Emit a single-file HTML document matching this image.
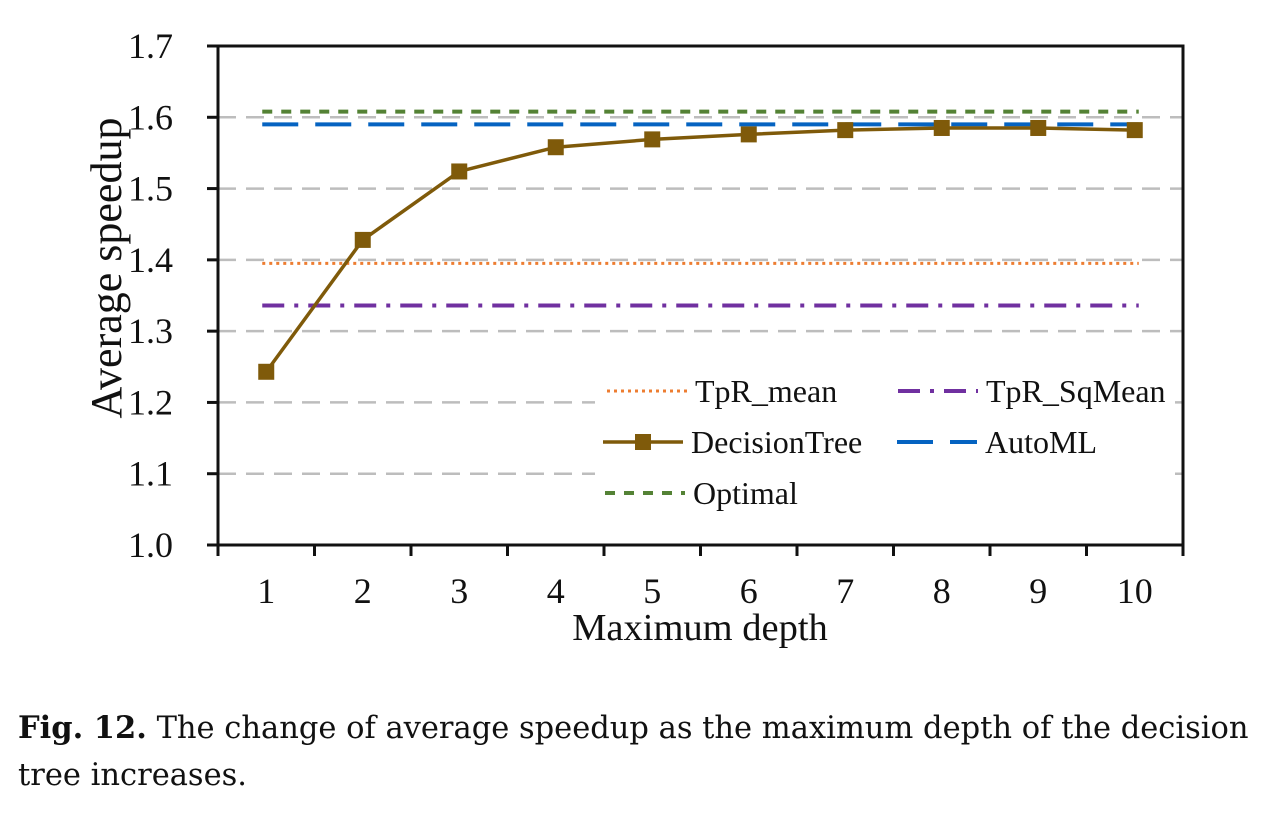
<!DOCTYPE html>
<html><head><meta charset="utf-8"><style>
body{margin:0;background:#fff;width:1262px;height:816px;overflow:hidden}
svg text{font-family:"Liberation Serif",serif}
.cap{position:absolute;left:18px;top:705px;font-family:"DejaVu Serif","Liberation Serif",serif;font-size:30.5px;line-height:47px;color:#111;width:1250px;white-space:nowrap}
</style></head><body>
<svg id="chart" width="1262" height="700" style="position:absolute;left:0;top:0"></svg>
<div class="cap"><b>Fig. 12.</b> The change of average speedup as the maximum depth of the decision<br>tree increases.</div>
<script>
const categories=[1,2,3,4,5,6,7,8,9,10];
const decisionTree=[1.243,1.428,1.524,1.558,1.569,1.576,1.582,1.585,1.585,1.582];
const optimal=1.608, autoML=1.590, tprMean=1.395, tprSqMean=1.336;
const yTicks=[1.0,1.1,1.2,1.3,1.4,1.5,1.6,1.7];
const NS='http://www.w3.org/2000/svg';
const svg=document.getElementById('chart');
const L=218,R=1183,T=46,B=545;
const x=i=>L+(i+0.5)*(R-L)/categories.length;
const y=v=>B-(v-1.0)/0.7*(B-T);
function el(t,a,p){const e=document.createElementNS(NS,t);for(const k in a)e.setAttribute(k,a[k]);(p||svg).appendChild(e);return e;}
yTicks.forEach(v=>{if(v>1.0&&v<1.7){const g=el('line',{x1:L,x2:R,y1:y(v),y2:y(v),stroke:'#bdbdbd','stroke-width':2.5,'stroke-dasharray':'18 10'});

}
const t=el('text',{x:173,y:y(v)+12,'text-anchor':'end','font-size':36,fill:'#111'});t.textContent=v.toFixed(1);


el('line',{x1:207,x2:L,y1:y(v),y2:y(v),stroke:'#111','stroke-width':3});});
el('path',{d:`M${L},${B}V${T}H${R}V${B}`,fill:'none',stroke:'#111','stroke-width':3});
el('line',{x1:L-11,x2:R,y1:B,y2:B,stroke:'#111','stroke-width':3});
for(let i=0;i<=categories.length;i++){const xx=L+i*(R-L)/categories.length;el('line',{x1:xx,x2:xx,y1:B,y2:B+11,stroke:'#111','stroke-width':3});}
categories.forEach((c,i)=>{const t=el('text',{x:x(i),y:603,'text-anchor':'middle','font-size':36,fill:'#111'});t.textContent=c;

});
let t=el('text',{x:700,y:640,'text-anchor':'middle','font-size':38.5,fill:'#111'});t.textContent='Maximum depth';


t=el('text',{x:0,y:0,'text-anchor':'middle','font-size':44,fill:'#111',transform:`translate(121,268) rotate(-90)`});t.textContent='Average speedup';


el('rect',{x:595,y:368,width:580,height:150,fill:'#fff'});
const x0=x(0)-4,x1=x(categories.length-1)+4;
function hline(v,st,sw,da,nm){const l=el('line',{x1:x0,x2:x1,y1:y(v),y2:y(v),stroke:st,'stroke-width':sw,'stroke-dasharray':da});

}
hline(optimal,'#548235',4,'10 9','optimal-line');
hline(autoML,'#0563c1',4,'36 17','automl-line');
hline(tprMean,'#ed7d31',3,'3 4','tpr-mean-line');
hline(tprSqMean,'#7030a0',4,'22 10 4 10','tpr-sqmean-line');
const pl=el('polyline',{points:decisionTree.map((v,i)=>x(i)+','+y(v)).join(' '),fill:'none',stroke:'#7f5a0a','stroke-width':3.5});


decisionTree.forEach((v,i)=>{const r=el('rect',{x:x(i)-8,y:y(v)-8,width:16,height:16,fill:'#7f5a0a'});

});
function leg(lx,ly,label,st,sw,da,marker){const g=el('g',{});


el('line',{x1:lx,x2:lx+80,y1:ly,y2:ly,stroke:st,'stroke-width':sw,'stroke-dasharray':da},g);
if(marker)el('rect',{x:lx+32,y:ly-8,width:16,height:16,fill:st},g);
const tt=el('text',{x:lx+88,y:ly+11,'font-size':32,fill:'#111'},g);tt.textContent=label;}
leg(607,391,'TpR_mean','#ed7d31',3,'3 4');
leg(898,391,'TpR_SqMean','#7030a0',4,'22 10 4 10');
leg(603,442,'DecisionTree','#7f5a0a',3.5,'',true);
leg(897,442,'AutoML','#0563c1',4,'36 17');
leg(605,493,'Optimal','#548235',4,'10 9');
</script>
</body></html>
